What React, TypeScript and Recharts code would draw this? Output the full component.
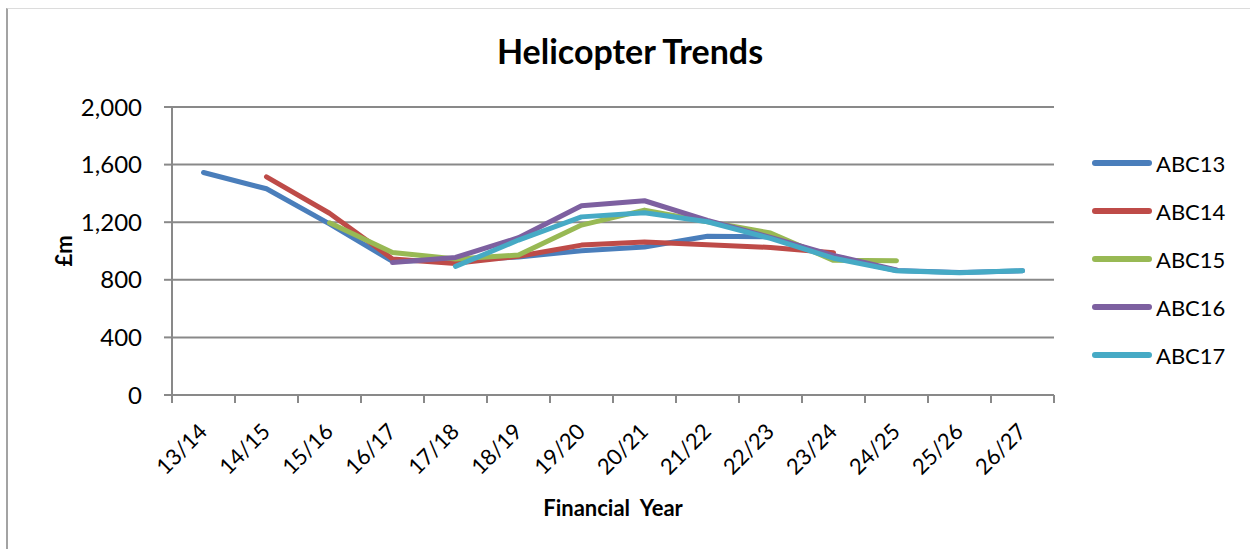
import { LineChart, Line, XAxis, YAxis, CartesianGrid } from "recharts";

const categories = [
  "13/14", "14/15", "15/16", "16/17", "17/18", "18/19", "19/20",
  "20/21", "21/22", "22/23", "23/24", "24/25", "25/26", "26/27",
];

const abc13 = [1545, 1432, 1188, 928, 940, 958, 1002, 1028, 1102, 1098, 960, 865, 850, 862];
const abc14 = [null, 1515, 1262, 945, 914, 963, 1041, 1062, 1043, 1025, 988, null, null, null];
const abc15 = [null, null, 1196, 990, 945, 972, 1180, 1284, 1203, 1125, 935, 932, null, null];
const abc16 = [null, null, null, 920, 955, 1092, 1314, 1349, 1212, 1095, 970, 868, null, null];
const abc17 = [null, null, null, null, 893, 1076, 1237, 1265, 1203, 1088, 950, 863, 849, 863];

const yTicks = [0, 400, 800, 1200, 1600, 2000];

const SERIES = [
  { key: "ABC13", values: abc13, color: "#4A7EBB" },
  { key: "ABC14", values: abc14, color: "#BE4B48" },
  { key: "ABC15", values: abc15, color: "#98B954" },
  { key: "ABC16", values: abc16, color: "#7D60A0" },
  { key: "ABC17", values: abc17, color: "#46AAC5" },
];

const W = 1250;
const H = 549;
const MARGIN = { top: 107, right: 196, left: 0, bottom: 0 };
const Y_AXIS_W = 172;
const X_AXIS_H = 154;
const PLOT_W = W - MARGIN.right - Y_AXIS_W;
const HALF_BAND = PLOT_W / categories.length / 2;

const FONT = "Lato, Carlito, 'Open Sans', sans-serif";
const AXIS_GREY = "#898989";

const data = categories.map((c, i) => {
  const row: Record<string, string | number | null> = { year: c };
  SERIES.forEach((s) => {
    row[s.key] = s.values[i];
  });
  return row;
});

function XTick(props: any) {
  const { x, y, payload, index } = props;
  const last = index === categories.length - 1;
  return (
    <g>
      <line x1={x - HALF_BAND} y1={y} x2={x - HALF_BAND} y2={y + 8} stroke={AXIS_GREY} strokeWidth={2} />
      {last && (
        <line x1={x + HALF_BAND} y1={y} x2={x + HALF_BAND} y2={y + 8} stroke={AXIS_GREY} strokeWidth={2} />
      )}
      <text
        x={x + 5}
        y={y + 38}
        transform={`rotate(-45, ${x + 5}, ${y + 38})`}
        textAnchor="end"
        fontFamily={FONT}
        fontSize={22}
        fill="#000"
      >
        {payload.value}
      </text>
    </g>
  );
}

function YLabel(props: any) {
  const { viewBox } = props;
  const cx = viewBox.x + 63;
  const cy = viewBox.y + viewBox.height / 2;
  return (
    <text
      x={cx}
      y={cy}
      transform={`rotate(-90, ${cx}, ${cy})`}
      textAnchor="middle"
      dominantBaseline="central"
      fontFamily={FONT}
      fontWeight="bold"
      fontSize={22}
      fill="#000"
    >
      £m
    </text>
  );
}

function XLabel(props: any) {
  const { viewBox } = props;
  return (
    <text
      x={viewBox.x + viewBox.width / 2}
      y={viewBox.y + 121}
      textAnchor="middle"
      fontFamily={FONT}
      fontWeight="bold"
      fontSize={22}
      fill="#000"
      style={{ whiteSpace: "pre" }}
    >
      {"Financial  Year"}
    </text>
  );
}

function LegendBox() {
  return (
    <div style={{ position: "absolute", left: 1092, top: 139 }}>
      {SERIES.map((s) => (
        <div key={s.key} style={{ display: "flex", alignItems: "center", height: 48 }}>
          <svg width={64} height={10}>
            <line x1={3} y1={5} x2={57} y2={5} stroke={s.color} strokeWidth={6} strokeLinecap="round" />
          </svg>
          <span style={{ fontFamily: FONT, fontSize: 22, color: "#000" }}>{s.key}</span>
        </div>
      ))}
    </div>
  );
}

export default function App() {
  return (
    <div style={{ position: "absolute", left: 0, top: 0, width: W, height: H, background: "#fff" }}>
      <div
        style={{
          position: "absolute",
          left: 6,
          top: 8,
          width: W - 6,
          height: H - 8,
          borderLeft: "2px solid #a3a3a3",
          borderTop: "1px solid #dcdcdc",
          boxSizing: "border-box",
        }}
      />
      <div
        style={{
          position: "absolute",
          left: 0,
          top: 31,
          width: 1260,
          textAlign: "center",
          fontFamily: FONT,
          fontWeight: "bold",
          fontSize: 34,
          lineHeight: "40px",
          color: "#000",
        }}
      >
        Helicopter Trends
      </div>
      <div style={{ position: "absolute", left: 0, top: 0 }}>
        <LineChart width={W} height={H} data={data} margin={MARGIN}>
          <CartesianGrid vertical={false} stroke={AXIS_GREY} strokeWidth={2} />
          <XAxis
            dataKey="year"
            height={X_AXIS_H}
            interval={0}
            padding={{ left: HALF_BAND, right: HALF_BAND }}
            axisLine={{ stroke: AXIS_GREY, strokeWidth: 2 }}
            tickLine={false}
            tickSize={0}
            tickMargin={0}
            tick={<XTick />}
            label={<XLabel />}
          />
          <YAxis
            width={Y_AXIS_W}
            domain={[0, 2000]}
            ticks={yTicks}
            interval={0}
            axisLine={{ stroke: AXIS_GREY, strokeWidth: 2 }}
            tickLine={{ stroke: AXIS_GREY, strokeWidth: 2 }}
            tickSize={8}
            tickMargin={22}
            tickFormatter={(v: number) => v.toLocaleString("en-GB")}
            tick={{ fontFamily: FONT, fontSize: 24, fill: "#000" }}
            label={<YLabel />}
          />
          {SERIES.map((s) => (
            <Line
              key={s.key}
              type="linear"
              dataKey={s.key}
              name={s.key}
              stroke={s.color}
              strokeWidth={5}
              strokeLinecap="round"
              strokeLinejoin="round"
              dot={false}
              activeDot={false}
              isAnimationActive={false}
            />
          ))}
        </LineChart>
      </div>
      <LegendBox />
    </div>
  );
}
